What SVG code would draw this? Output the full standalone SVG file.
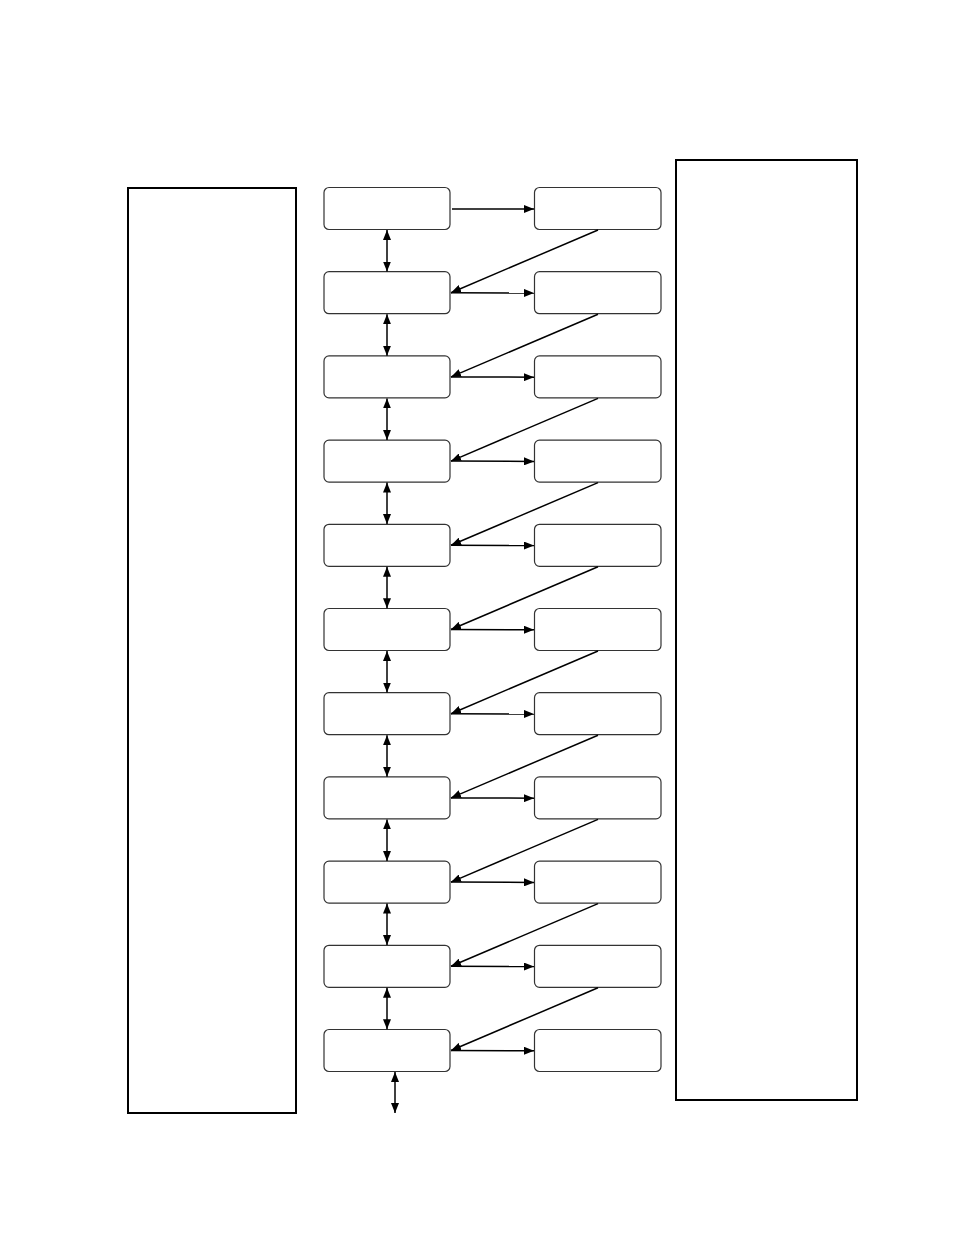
<svg xmlns="http://www.w3.org/2000/svg" width="954" height="1235" viewBox="0 0 954 1235">
<style>
.panel{fill:#fff;stroke:#000;stroke-width:2}
.box{fill:#fff;stroke:#333;stroke-width:1.2}
.c{fill:none;stroke:#000;stroke-width:1.5}
</style>
<defs>
<marker id="ah" viewBox="0 0 10 8" refX="10" refY="4" markerWidth="10" markerHeight="8" markerUnits="userSpaceOnUse" orient="auto-start-reverse">
<path d="M0,0L10,4L0,8Z" fill="#000"/>
</marker>
</defs>
<rect width="954" height="1235" fill="#fff"/>
<g id="left-panel"><rect class="panel" x="128" y="188" width="168" height="925"/></g>
<g id="right-panel"><rect class="panel" x="676" y="160" width="181" height="940"/></g>
<g id="nodes">
<g id="L1"><rect class="box" x="324" y="187.5" width="126" height="42" rx="5"/></g>
<g id="R1"><rect class="box" x="534.5" y="187.5" width="126.5" height="42" rx="5"/></g>
<g id="L2"><rect class="box" x="324" y="271.7" width="126" height="42" rx="5"/></g>
<g id="R2"><rect class="box" x="534.5" y="271.7" width="126.5" height="42" rx="5"/></g>
<g id="L3"><rect class="box" x="324" y="355.9" width="126" height="42" rx="5"/></g>
<g id="R3"><rect class="box" x="534.5" y="355.9" width="126.5" height="42" rx="5"/></g>
<g id="L4"><rect class="box" x="324" y="440.1" width="126" height="42" rx="5"/></g>
<g id="R4"><rect class="box" x="534.5" y="440.1" width="126.5" height="42" rx="5"/></g>
<g id="L5"><rect class="box" x="324" y="524.3" width="126" height="42" rx="5"/></g>
<g id="R5"><rect class="box" x="534.5" y="524.3" width="126.5" height="42" rx="5"/></g>
<g id="L6"><rect class="box" x="324" y="608.5" width="126" height="42" rx="5"/></g>
<g id="R6"><rect class="box" x="534.5" y="608.5" width="126.5" height="42" rx="5"/></g>
<g id="L7"><rect class="box" x="324" y="692.7" width="126" height="42" rx="5"/></g>
<g id="R7"><rect class="box" x="534.5" y="692.7" width="126.5" height="42" rx="5"/></g>
<g id="L8"><rect class="box" x="324" y="776.9" width="126" height="42" rx="5"/></g>
<g id="R8"><rect class="box" x="534.5" y="776.9" width="126.5" height="42" rx="5"/></g>
<g id="L9"><rect class="box" x="324" y="861.1" width="126" height="42" rx="5"/></g>
<g id="R9"><rect class="box" x="534.5" y="861.1" width="126.5" height="42" rx="5"/></g>
<g id="L10"><rect class="box" x="324" y="945.3" width="126" height="42" rx="5"/></g>
<g id="R10"><rect class="box" x="534.5" y="945.3" width="126.5" height="42" rx="5"/></g>
<g id="L11"><rect class="box" x="324" y="1029.5" width="126" height="42" rx="5"/></g>
<g id="R11"><rect class="box" x="534.5" y="1029.5" width="126.5" height="42" rx="5"/></g>
</g>
<g id="connectors">
<line class="c" x1="452" y1="209" x2="534" y2="209" marker-end="url(#ah)"/>
<line class="c" x1="387" y1="230" x2="387" y2="271.5" marker-start="url(#ah)" marker-end="url(#ah)"/>
<line class="c" x1="598" y1="230" x2="451" y2="292.7" marker-end="url(#ah)"/>
<line class="c" x1="451" y1="292.7" x2="534" y2="293" marker-end="url(#ah)"/>
<line class="c" x1="387" y1="314.2" x2="387" y2="355.7" marker-start="url(#ah)" marker-end="url(#ah)"/>
<line class="c" x1="598" y1="314.2" x2="451" y2="376.9" marker-end="url(#ah)"/>
<line class="c" x1="451" y1="376.9" x2="534" y2="377.2" marker-end="url(#ah)"/>
<line class="c" x1="387" y1="398.4" x2="387" y2="439.9" marker-start="url(#ah)" marker-end="url(#ah)"/>
<line class="c" x1="598" y1="398.4" x2="451" y2="461.1" marker-end="url(#ah)"/>
<line class="c" x1="451" y1="461.1" x2="534" y2="461.4" marker-end="url(#ah)"/>
<line class="c" x1="387" y1="482.6" x2="387" y2="524.1" marker-start="url(#ah)" marker-end="url(#ah)"/>
<line class="c" x1="598" y1="482.6" x2="451" y2="545.3" marker-end="url(#ah)"/>
<line class="c" x1="451" y1="545.3" x2="534" y2="545.6" marker-end="url(#ah)"/>
<line class="c" x1="387" y1="566.8" x2="387" y2="608.3" marker-start="url(#ah)" marker-end="url(#ah)"/>
<line class="c" x1="598" y1="566.8" x2="451" y2="629.5" marker-end="url(#ah)"/>
<line class="c" x1="451" y1="629.5" x2="534" y2="629.8" marker-end="url(#ah)"/>
<line class="c" x1="387" y1="651" x2="387" y2="692.5" marker-start="url(#ah)" marker-end="url(#ah)"/>
<line class="c" x1="598" y1="651" x2="451" y2="713.7" marker-end="url(#ah)"/>
<line class="c" x1="451" y1="713.7" x2="534" y2="714" marker-end="url(#ah)"/>
<line class="c" x1="387" y1="735.2" x2="387" y2="776.7" marker-start="url(#ah)" marker-end="url(#ah)"/>
<line class="c" x1="598" y1="735.2" x2="451" y2="797.9" marker-end="url(#ah)"/>
<line class="c" x1="451" y1="797.9" x2="534" y2="798.2" marker-end="url(#ah)"/>
<line class="c" x1="387" y1="819.4" x2="387" y2="860.9" marker-start="url(#ah)" marker-end="url(#ah)"/>
<line class="c" x1="598" y1="819.4" x2="451" y2="882.1" marker-end="url(#ah)"/>
<line class="c" x1="451" y1="882.1" x2="534" y2="882.4" marker-end="url(#ah)"/>
<line class="c" x1="387" y1="903.6" x2="387" y2="945.1" marker-start="url(#ah)" marker-end="url(#ah)"/>
<line class="c" x1="598" y1="903.6" x2="451" y2="966.3" marker-end="url(#ah)"/>
<line class="c" x1="451" y1="966.3" x2="534" y2="966.6" marker-end="url(#ah)"/>
<line class="c" x1="387" y1="987.8" x2="387" y2="1029.3" marker-start="url(#ah)" marker-end="url(#ah)"/>
<line class="c" x1="598" y1="987.8" x2="451" y2="1050.5" marker-end="url(#ah)"/>
<line class="c" x1="451" y1="1050.5" x2="534" y2="1050.8" marker-end="url(#ah)"/>
<line class="c" x1="395" y1="1072" x2="395" y2="1113" marker-start="url(#ah)" marker-end="url(#ah)"/>
</g>
</svg>
